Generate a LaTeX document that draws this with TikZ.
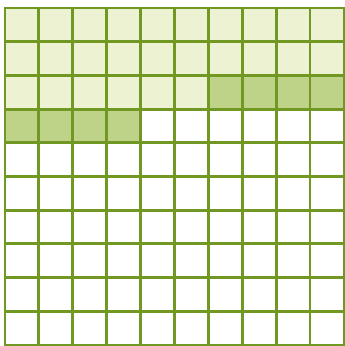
\documentclass[tikz,border=0pt]{standalone}
\usepackage{tikz}

\definecolor{gridgreen}{RGB}{112,152,34}
\definecolor{lightgreen}{RGB}{236,242,210}
\definecolor{midgreen}{RGB}{190,210,136}

\begin{document}
\begin{tikzpicture}[x=0.05cm, y=-0.05cm,
gridline/.style={draw=gridgreen, line width=4pt, line cap=rect},
lightcell/.style={fill=lightgreen},
darkcell/.style={fill=midgreen}
]
\fill[white] (0,0) rectangle (344,346);
\useasboundingbox (0,0) rectangle (344,346);

\begin{scope}[shift={(5,8)}, x=1.695cm, y=-1.685cm]
% shaded rows
\fill[lightcell] (0,0) rectangle (10,3);
\fill[darkcell] (6,2) rectangle (10,3);
\fill[darkcell] (0,3) rectangle (4,4);
% the grid
\foreach \i in {0,...,10} {
  \draw[gridline] (\i,0) -- (\i,10);
  \draw[gridline] (0,\i) -- (10,\i);
}
\end{scope}
\end{tikzpicture}
\end{document}
